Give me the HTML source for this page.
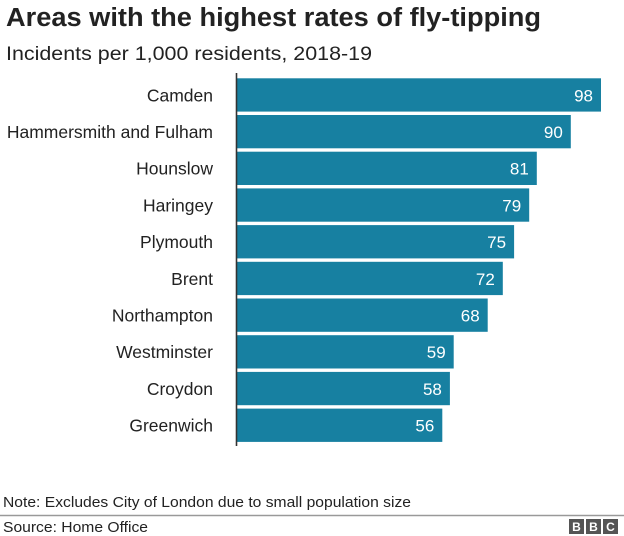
<!DOCTYPE html>
<html><head><meta charset="utf-8"><style>
html,body{margin:0;padding:0;background:#fff;}
svg{display:block;}
text{font-family:"Liberation Sans",Arial,sans-serif;}
</style></head><body>
<svg width="624" height="536" viewBox="0 0 624 536" xmlns="http://www.w3.org/2000/svg">
<rect width="624" height="536" fill="#fff"/>
<text x="6" y="26" font-size="25.5" font-weight="bold" fill="#222" textLength="535" lengthAdjust="spacingAndGlyphs">Areas with the highest rates of fly-tipping</text>
<text x="6" y="60" font-size="19.5" fill="#222" textLength="366" lengthAdjust="spacingAndGlyphs">Incidents per 1,000 residents, 2018-19</text>

<g fill="#1780a1">
<rect x="237" y="78.3" width="364" height="33.3"/>
<rect x="237" y="115.0" width="333.8" height="33.3"/>
<rect x="237" y="151.7" width="299.8" height="33.3"/>
<rect x="237" y="188.4" width="292.2" height="33.3"/>
<rect x="237" y="225.1" width="277.1" height="33.3"/>
<rect x="237" y="261.8" width="265.8" height="33.3"/>
<rect x="237" y="298.5" width="250.7" height="33.3"/>
<rect x="237" y="335.2" width="216.7" height="33.3"/>
<rect x="237" y="371.9" width="212.9" height="33.3"/>
<rect x="237" y="408.6" width="205.3" height="33.3"/>
</g>
<line x1="236.5" y1="73" x2="236.5" y2="446" stroke="#333" stroke-width="1.6"/>

<g font-size="17.5" fill="#222" text-anchor="end">
<text x="213" y="101.3">Camden</text>
<text x="213" y="138.0">Hammersmith and Fulham</text>
<text x="213" y="174.7">Hounslow</text>
<text x="213" y="211.4">Haringey</text>
<text x="213" y="248.1">Plymouth</text>
<text x="213" y="284.8">Brent</text>
<text x="213" y="321.5">Northampton</text>
<text x="213" y="358.2">Westminster</text>
<text x="213" y="394.9">Croydon</text>
<text x="213" y="431.6">Greenwich</text>
</g>
<g font-size="17" fill="#fff" text-anchor="end">
<text x="593" y="101.3">98</text>
<text x="562.8" y="138.0">90</text>
<text x="528.8" y="174.7">81</text>
<text x="521.2" y="211.4">79</text>
<text x="506.1" y="248.1">75</text>
<text x="494.8" y="284.8">72</text>
<text x="479.7" y="321.5">68</text>
<text x="445.7" y="358.2">59</text>
<text x="441.9" y="394.9">58</text>
<text x="434.3" y="431.6">56</text>
</g>

<text x="3" y="507" font-size="14.5" fill="#222" textLength="408" lengthAdjust="spacingAndGlyphs">Note: Excludes City of London due to small population size</text>
<line x1="0" y1="515.5" x2="624" y2="515.5" stroke="#999" stroke-width="1.5"/>
<text x="3" y="532" font-size="14.5" fill="#222" textLength="145" lengthAdjust="spacingAndGlyphs">Source: Home Office</text>

<g>
<rect x="569" y="519" width="15" height="15" fill="#555"/>
<rect x="586" y="519" width="15" height="15" fill="#555"/>
<rect x="603" y="519" width="15" height="15" fill="#555"/>
<g font-size="12" font-weight="bold" fill="#fff" text-anchor="middle">
<text x="576.5" y="531">B</text>
<text x="593.5" y="531">B</text>
<text x="610.5" y="531">C</text>
</g>
</g>
</svg>
</body></html>
